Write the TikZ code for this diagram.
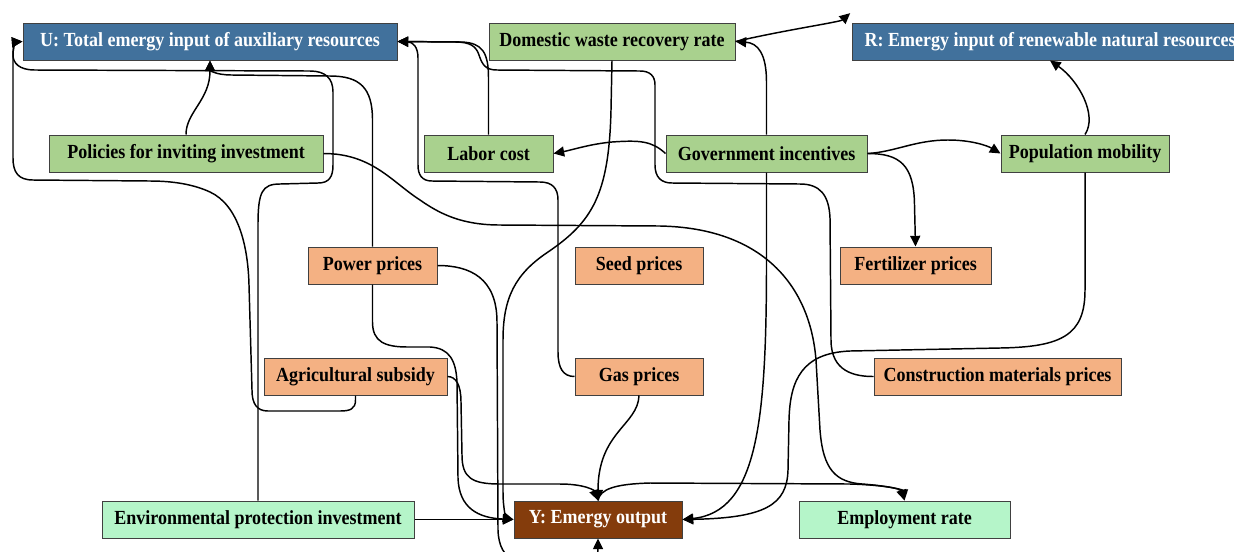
\documentclass[tikz,border=0pt]{standalone}
\usepackage{fontspec}
\setmainfont{Liberation Serif}[FakeStretch=0.9]
\usetikzlibrary{arrows.meta}
\definecolor{boxline}{HTML}{404040}
\definecolor{inputblue}{HTML}{41719C}
\definecolor{policygreen}{HTML}{A9D18E}
\definecolor{priceorange}{HTML}{F4B183}
\definecolor{outmint}{HTML}{B5F5C9}
\definecolor{outbrown}{HTML}{843C0C}
\begin{document}
\begin{tikzpicture}[x=0.75pt,y=-0.75pt,
  box/.style={rectangle, draw=boxline, line width=0.75pt, minimum height=27.75pt,
    inner sep=0pt, font=\fontsize{15}{17}\selectfont\bfseries},
  inputbox/.style={box, fill=inputblue, text=white},
  policybox/.style={box, fill=policygreen},
  pricebox/.style={box, fill=priceorange},
  mintbox/.style={box, fill=outmint},
  outbox/.style={box, fill=outbrown, text=white},
  link/.style={draw=black, line width=1.1pt, -{Triangle[length=8pt,width=7.5pt]}}]

\useasboundingbox (0,0) rectangle (1234,551);
\fill[white] (0,0) rectangle (1234,551);
\clip (0,0) rectangle (1234,551);

% ---- nodes ----
\node[inputbox, minimum width=280.5pt] (U) at (210,41.5) {U: Total emergy input of auxiliary resources};
\node[policybox, minimum width=184.5pt] (Dom) at (612,41.5) {Domestic waste recovery rate};
\node[inputbox, minimum width=297pt] (R) at (1050,41.5) {R: Emergy input of renewable natural resources};

\node[policybox, minimum width=205.5pt] (Pol) at (186,153.5) {Policies for inviting investment};
\node[policybox, minimum width=96.75pt] (Lab) at (488.5,153.5) {Labor cost};
\node[policybox, minimum width=150.75pt] (Gov) at (766.5,153.5) {Government incentives};
\node[policybox, minimum width=126pt] (Pop) at (1085,153.5) {Population mobility};

\node[pricebox, minimum width=96.75pt] (Pow) at (372.5,265.5) {Power prices};
\node[pricebox, minimum width=96pt] (Seed) at (639,265.5) {Seed prices};
\node[pricebox, minimum width=113.25pt] (Fert) at (915.5,265.5) {Fertilizer prices};

\node[pricebox, minimum width=137.25pt] (Agr) at (355.5,376.5) {Agricultural subsidy};
\node[pricebox, minimum width=96pt] (Gas) at (639,376.5) {Gas prices};
\node[pricebox, minimum width=185.25pt] (Con) at (997.5,376.5) {Construction materials prices};

\node[mintbox, minimum width=234pt] (Env) at (258,519.5) {Environmental protection investment};
\node[outbox, minimum width=126pt] (Y) at (598,519.5) {Y: Emergy output};
\node[mintbox, minimum width=158.25pt] (Emp) at (904.5,519.5) {Employment rate};

% ---- links into U ----
\draw[link] (Pol.north) .. controls (186,112) and (210,100) .. (U.south);
\draw[link] (Pow.north) -- (372.5,120) .. controls (372.5,88) and (360,76) .. (330,76)
  -- (232,75) .. controls (215,75) and (210,70) .. (U.south);
\draw[link] (Agr.south) -- (355.5,400) .. controls (355.5,409) and (350,411) .. (340,411)
  -- (268,411) .. controls (257,411) and (252,404) .. (252,390) -- (249,285)
  .. controls (248,245) and (238,205) .. (210,192) .. controls (195,185) and (175,181) .. (150,181)
  -- (33,180) .. controls (18,180) and (13,172) .. (13,158) -- (13,55)
  .. controls (13,46) and (16,42) .. (U.west);
\draw[link] (Env.north) -- (258,225) .. controls (258,192) and (262,184) .. (280,184)
  -- (318,183) .. controls (329,183) and (333,177) .. (333,165) -- (333,92)
  .. controls (333,78) and (325,71) .. (310,71) -- (35,70)
  .. controls (19,70) and (13,63) .. (13,55) .. controls (13,46) and (16,42) .. (U.west);
\draw[link] (Lab.north) -- (488.5,78) .. controls (488.5,52) and (482,43) .. (462,42) -- (U.east);
\draw[link] (Gas.west) .. controls (563,376.5) and (558,368) .. (558,352) -- (558,200)
  .. controls (558,188) and (552,182) .. (540,182) -- (432,181)
  .. controls (422,181) and (418,175) .. (418,165) -- (418,58)
  .. controls (418,47) and (413,42) .. (U.east);
\draw[link] (Con.west) .. controls (855,376.5) and (831,372) .. (831,340) -- (830,218)
  .. controls (829,195) and (820,184) .. (800,184) -- (672,183)
  .. controls (661,183) and (655,177) .. (655,165) -- (655,85)
  .. controls (655,76) and (650,71) .. (640,71) -- (497,70)
  .. controls (485,70) and (482,64) .. (479,55) .. controls (476,46) and (470,42) .. (455,42)
  -- (U.east);

% ---- links from government incentives ----
\draw[link] (Gov.west) .. controls (652,141) and (640,140) .. (612,142)
  .. controls (590,144) and (572,150) .. (Lab.east);
\draw[link] (Gov.north) -- (766.5,82) .. controls (766.5,54) and (758,43) .. (Dom.east);
\draw[link] (Gov.east) .. controls (895,152) and (915,140) .. (948,140)
  .. controls (972,140) and (988,146) .. (Pop.west);
\draw[link] (Gov.east) .. controls (900,153.5) and (914,165) .. (914.5,205) -- (Fert.north);
\draw[link] (Gov.south) -- (766.5,260) .. controls (766.5,420) and (758,512) .. (Y.east);

% ---- population mobility ----
\draw[link] (Pop.north) .. controls (1098,115) and (1078,80) .. (R.south);
\draw[link] (Pop.south) -- (1085,290) .. controls (1085,335) and (1062,347) .. (1000,348)
  -- (850,351) .. controls (802,353) and (790,380) .. (789,420) -- (788,470)
  .. controls (787,505) and (765,518) .. (Y.east);

% ---- domestic waste recovery ----
\draw[link] (Dom.east) .. controls (785,30) and (840,22) .. ([xshift=-1pt,yshift=7pt]R.north west);
\draw[link] (Dom.south) -- (611,110) .. controls (609,195) and (592,222) .. (548,252)
  .. controls (515,274) and (503,298) .. (503,340) -- (503,492)
  .. controls (503,511) and (507,518) .. (Y.west);

% ---- links into Y ----
\draw[link] (Pow.south) -- (372.5,322) .. controls (372.5,342) and (385,347) .. (408,347)
  -- (430,347) .. controls (449,348) and (456,360) .. (457,382) -- (458,478)
  .. controls (459,508) and (478,518) .. (Y.west);
\draw[link] (Pow.east) .. controls (470,265.5) and (497,278) .. (497,322) -- (498,530)
  .. controls (499,562) and (520,568) .. (560,568) .. controls (590,568) and (598,562) .. (Y.south);
\draw[link] (Agr.east) .. controls (456,376.5) and (461,385) .. (461,402) -- (462,455)
  .. controls (462,478) and (472,484) .. (500,484) -- (560,484)
  .. controls (584,484) and (594,490) .. (Y.north);
\draw[link] (Gas.south) .. controls (638,425) and (598,432) .. (Y.north);
\draw[link] (Env.east) -- (Y.west);

% ---- links into employment ----
\draw[link] (Y.north) .. controls (600,489) and (615,484) .. (650,483) -- (850,484)
  .. controls (885,485) and (901,489) .. (Emp.north);
\draw[link] (Pol.east) .. controls (372,153.5) and (392,182) .. (420,200)
  .. controls (440,214) and (462,225) .. (500,225) -- (660,226)
  .. controls (762,228) and (810,285) .. (816,360) -- (820,430)
  .. controls (823,470) and (836,482) .. (862,484) .. controls (890,486) and (903,490) .. (Emp.north);
\end{tikzpicture}
\end{document}
